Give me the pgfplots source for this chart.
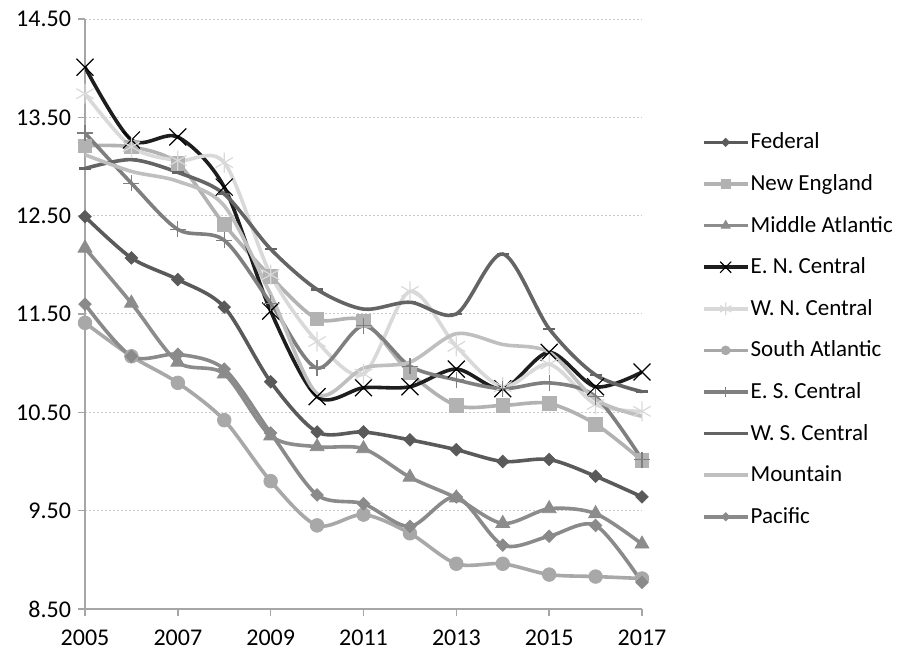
\documentclass[border=0pt]{standalone}
\usepackage{fontspec}
\setmainfont{Carlito}
\usepackage{pgfplots}
\pgfplotsset{compat=1.18}
\definecolor{cFed}{HTML}{5A5A5A}
\definecolor{cNE}{HTML}{B2B2B2}
\definecolor{cMA}{HTML}{8C8C8C}
\definecolor{cENC}{HTML}{1E1E1E}
\definecolor{cWNC}{HTML}{D9D9D9}
\definecolor{cSA}{HTML}{A8A8A8}
\definecolor{cESC}{HTML}{7F7F7F}
\definecolor{cWSC}{HTML}{646464}
\definecolor{cMtn}{HTML}{BFBFBF}
\definecolor{cPac}{HTML}{8A8A8A}
\definecolor{axisgray}{HTML}{A6A6A6}
\definecolor{gridgray}{HTML}{C8C8C8}
\begin{document}
\begin{tikzpicture}
\useasboundingbox (-42.5pt,-21pt) rectangle (406.5pt,304.5pt);
\begin{axis}[
  scale only axis, width=278.5pt, height=295pt,
  xmin=2005, xmax=2017, ymin=8.5, ymax=14.5,
  axis x line*=bottom, axis y line*=left,
  axis line style={draw=axisgray, line width=0.8pt},
  xtick={2005,2007,2009,2011,2013,2015,2017},
  ytick={8.5,9.5,10.5,11.5,12.5,13.5,14.5},
  tick align=outside, major tick length=3.5pt,
  tick style={draw=axisgray, line width=0.8pt},
  ymajorgrids, grid style={draw=gridgray, dash pattern=on 1pt off 1pt, line width=0.5pt},
  x tick label style={/pgf/number format/1000 sep=, yshift=-3.5pt},
  y tick label style={/pgf/number format/.cd, fixed, fixed zerofill, precision=2},
  /pgf/number format/assume math mode=true,
  tick label style={font=\fontsize{12}{14}\selectfont, text=black},
  every axis plot/.append style={smooth, line width=1.8pt},
  legend image code/.code={\begin{scope}[every mark/.append style={scale=0.65}]\draw[mark repeat=2, mark phase=2, #1] plot coordinates {(0pt,0pt) (10.75pt,0pt) (21.5pt,0pt)};\end{scope}},
  legend style={draw=none, fill=none, at={(1.1077,0.8268)}, anchor=north west,
    inner sep=0pt, row sep=0pt, font=\fontsize{11.5}{14}\selectfont,
    nodes={inner sep=0pt, minimum height=20.8pt, anchor=west},
    /tikz/every odd column/.append style={column sep=0.8pt}},
  legend cell align=left,
]
\addplot[color=cFed, mark=square*, mark size=2.2pt, mark options={solid, line width=0.4pt, rotate=45}] coordinates {
(2005,12.49) (2006,12.07) (2007,11.85) (2008,11.57) (2009,10.81) (2010,10.30) (2011,10.30) (2012,10.22) (2013,10.12) (2014,10.00) (2015,10.02) (2016,9.85) (2017,9.64)};
\addlegendentry{Federal}
\addplot[color=cNE, mark=square*, mark size=3.4pt, mark options={solid, line width=0.4pt}] coordinates {
(2005,13.21) (2006,13.20) (2007,13.03) (2008,12.41) (2009,11.88) (2010,11.45) (2011,11.43) (2012,10.90) (2013,10.57) (2014,10.57) (2015,10.59) (2016,10.38) (2017,10.01)};
\addlegendentry{New England}
\addplot[color=cMA, mark=triangle*, mark size=4pt, mark options={solid, line width=0.4pt}] coordinates {
(2005,12.17) (2006,11.61) (2007,11.01) (2008,10.89) (2009,10.26) (2010,10.15) (2011,10.13) (2012,9.84) (2013,9.63) (2014,9.37) (2015,9.52) (2016,9.47) (2017,9.16)};
\addlegendentry{Middle Atlantic}
\addplot[color=cENC, mark=x, mark size=6pt, mark options={solid, line width=0.6pt, draw=black}] coordinates {
(2005,14.01) (2006,13.27) (2007,13.30) (2008,12.79) (2009,11.53) (2010,10.66) (2011,10.75) (2012,10.76) (2013,10.94) (2014,10.74) (2015,11.11) (2016,10.76) (2017,10.91)};
\addlegendentry{E. N. Central}
\addplot[color=cWNC, mark=asterisk, mark size=5pt, mark options={solid, line width=0.6pt}] coordinates {
(2005,13.74) (2006,13.20) (2007,13.06) (2008,13.04) (2009,11.90) (2010,11.22) (2011,10.89) (2012,11.73) (2013,11.17) (2014,10.76) (2015,10.99) (2016,10.58) (2017,10.51)};
\addlegendentry{W. N. Central}
\addplot[color=cSA, mark=*, mark size=3.4pt, mark options={solid, line width=0.4pt}] coordinates {
(2005,11.41) (2006,11.07) (2007,10.80) (2008,10.42) (2009,9.80) (2010,9.35) (2011,9.46) (2012,9.27) (2013,8.96) (2014,8.96) (2015,8.85) (2016,8.83) (2017,8.81)};
\addlegendentry{South Atlantic}
\addplot[color=cESC, mark=+, mark size=4pt, mark options={solid, line width=0.6pt}] coordinates {
(2005,13.34) (2006,12.83) (2007,12.36) (2008,12.25) (2009,11.61) (2010,10.95) (2011,11.38) (2012,10.97) (2013,10.83) (2014,10.74) (2015,10.80) (2016,10.66) (2017,10.02)};
\addlegendentry{E. S. Central}
\addplot[color=cWSC, mark=-, mark size=3pt, mark options={solid, line width=1.2pt}] coordinates {
(2005,12.98) (2006,13.07) (2007,12.94) (2008,12.72) (2009,12.16) (2010,11.75) (2011,11.55) (2012,11.62) (2013,11.50) (2014,12.11) (2015,11.35) (2016,10.88) (2017,10.71)};
\addlegendentry{W. S. Central}
\addplot[color=cMtn, no marks] coordinates {
(2005,13.12) (2006,12.95) (2007,12.85) (2008,12.60) (2009,11.70) (2010,10.69) (2011,10.95) (2012,11.01) (2013,11.30) (2014,11.19) (2015,11.11) (2016,10.63) (2017,10.46)};
\addlegendentry{Mountain}
\addplot[color=cPac, mark=square*, mark size=2.2pt, mark options={solid, line width=0.4pt, rotate=45}] coordinates {
(2005,11.60) (2006,11.07) (2007,11.09) (2008,10.94) (2009,10.29) (2010,9.66) (2011,9.57) (2012,9.34) (2013,9.64) (2014,9.15) (2015,9.24) (2016,9.35) (2017,8.77)};
\addlegendentry{Pacific}
\end{axis}
\end{tikzpicture}
\end{document}
